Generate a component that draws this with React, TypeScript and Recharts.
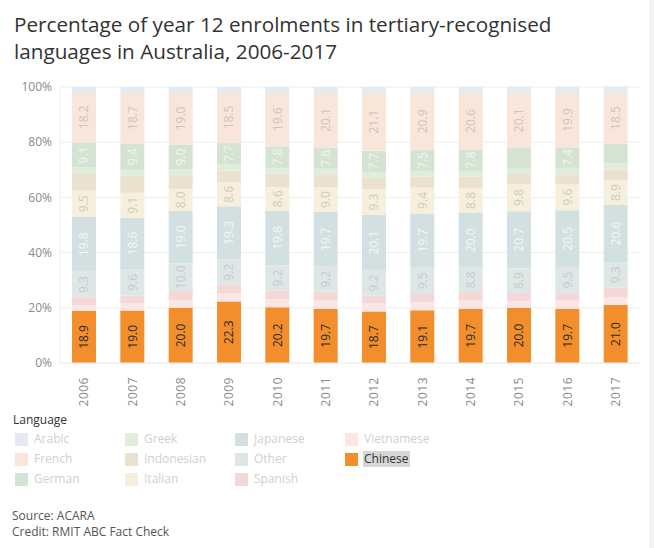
import React from "react"
import { BarChart, Bar, XAxis, YAxis, CartesianGrid, LabelList } from "recharts"

const years = ["2006", "2007", "2008", "2009", "2010", "2011", "2012", "2013", "2014", "2015", "2016", "2017"]

// values in % of enrolments, stacked bottom to top
const chinese = [18.9, 19.0, 20.0, 22.3, 20.2, 19.7, 18.7, 19.1, 19.7, 20.0, 19.7, 21.0]
const vietnamese = [2.1, 2.7, 2.8, 2.9, 3.0, 3.1, 2.9, 2.9, 2.9, 2.5, 2.9, 2.9]
const spanish = [2.8, 2.7, 3.3, 3.1, 3.0, 3.0, 2.8, 3.0, 3.1, 2.9, 2.7, 3.4]
const other = [9.3, 9.6, 10.0, 9.2, 9.2, 9.2, 9.2, 9.5, 8.8, 8.9, 9.5, 9.3]
const japanese = [19.8, 18.6, 19.0, 19.3, 19.8, 19.7, 20.1, 19.7, 20.0, 20.7, 20.5, 20.6]
const italian = [9.5, 9.1, 8.0, 8.6, 8.6, 9.0, 9.3, 9.4, 8.8, 9.8, 9.6, 8.9]
const indonesian = [6.4, 6.1, 5.0, 4.4, 4.8, 4.7, 4.2, 4.0, 4.2, 3.7, 3.5, 3.9]
const greek = [2.0, 2.2, 2.0, 2.2, 2.1, 2.0, 2.0, 2.0, 2.1, 1.9, 2.3, 2.2]
const german = [9.1, 9.4, 9.0, 7.7, 7.8, 7.6, 7.7, 7.5, 7.8, 7.5, 7.4, 7.2]
const french = [18.2, 18.7, 19.0, 18.5, 19.6, 20.1, 21.1, 20.9, 20.6, 20.1, 19.9, 18.5]
const arabic = [1.9, 1.9, 1.9, 1.8, 1.9, 1.9, 2.0, 2.0, 2.0, 2.0, 2.0, 2.0]

// years where the German mark label is hidden
const germanHiddenLabels = ["2015", "2017"]

const yTicks = [0, 0.2, 0.4, 0.6, 0.8, 1]

const series = [
  { key: "Chinese", values: chinese, color: "#F28E2B", label: "#2b2b2b" },
  { key: "Vietnamese", values: vietnamese, color: "#FAE6E5", label: null },
  { key: "Spanish", values: spanish, color: "#F4D8D8", label: null },
  { key: "Other", values: other, color: "#DEE7E6", label: "#C4CCCB" },
  { key: "Japanese", values: japanese, color: "#D3E0E1", label: "#F3F7F7" },
  { key: "Italian", values: italian, color: "#F6EFDB", label: "#CFCBC0" },
  { key: "Indonesian", values: indonesian, color: "#EAE2CF", label: null },
  { key: "Greek", values: greek, color: "#E1EDDC", label: null },
  { key: "German", values: german, color: "#D5E4D2", label: "#F1F6F0" },
  { key: "French", values: french, color: "#F8E6DA", label: "#CCC4BE" },
  { key: "Arabic", values: arabic, color: "#E3EAF2", label: null },
]

const legendColumns = [
  ["Arabic", "French", "German"],
  ["Greek", "Indonesian", "Italian"],
  ["Japanese", "Other", "Spanish"],
  ["Vietnamese", "Chinese"],
]

const data = years.map((year, i) => {
  const row: any = { year }
  series.forEach((s) => {
    row[s.key] = s.values[i]
    row[s.key + "Label"] = s.key === "German" && germanHiddenLabels.includes(year) ? null : s.values[i]
  })
  return row
})

const font = "'Open Sans', 'Noto Sans', sans-serif"

const makeLabel = (color: string) => (props: any) => {
  const { x, y, width, height, value } = props
  if (value == null) return null
  const cx = Number(x) + Number(width) / 2
  const cy = Number(y) + Number(height) / 2
  return (
    <text
      x={cx}
      y={cy}
      transform={`rotate(-90, ${cx}, ${cy})`}
      textAnchor="middle"
      dominantBaseline="central"
      fontSize={12}
      fontFamily={font}
      fill={color}
    >
      {Number(value).toFixed(1)}
    </text>
  )
}

const YearTick = (props: any) => {
  const { x, y, payload } = props
  return (
    <text
      x={x + 4}
      y={y + 6}
      transform={`rotate(-90, ${x + 4}, ${y + 6})`}
      textAnchor="end"
      fontSize={12}
      fontFamily={font}
      fill="#8a8a8a"
      letterSpacing={0.5}
    >
      {payload.value}
    </text>
  )
}

export default function App() {
  const colorOf = (k: string) => series.find((s) => s.key === k)!.color
  return (
    <div
      style={{
        position: "absolute",
        left: 0,
        top: 0,
        width: 654,
        height: 548,
        background: "#fff",
        fontFamily: font,
        overflow: "hidden",
      }}
    >
      <div
        style={{
          position: "absolute",
          left: 14,
          top: 11,
          fontSize: 20.7,
          lineHeight: "27px",
          color: "#333",
          whiteSpace: "nowrap",
        }}
      >
        <div>Percentage of year 12 enrolments in tertiary-recognised</div>
        <div>languages in Australia, 2006-2017</div>
      </div>
      <div style={{ position: "absolute", left: 0, top: 0 }}>
        <BarChart
          width={654}
          height={410}
          data={data}
          stackOffset="expand"
          barCategoryGap={12}
          margin={{ top: 87, right: 14, bottom: 0, left: 0 }}
        >
          <CartesianGrid vertical={false} stroke="#eeeeee" />
          <XAxis
            dataKey="year"
            tick={<YearTick />}
            tickLine={false}
            axisLine={{ stroke: "#eeeeee" }}
            height={47}
            interval={0}
          />
          <YAxis
            domain={[0, 1]}
            ticks={yTicks}
            tickFormatter={(v: number) => `${Math.round(v * 100)}%`}
            tick={{ fontSize: 12, fill: "#8a8a8a", fontFamily: font }}
            tickLine={false}
            axisLine={{ stroke: "#eeeeee" }}
            width={60}
          />
          {series.map((s) => (
            <Bar key={s.key} dataKey={s.key} stackId="a" fill={s.color} isAnimationActive={false}>
              {s.label && <LabelList dataKey={s.key + "Label"} content={makeLabel(s.label)} />}
            </Bar>
          ))}
        </BarChart>
      </div>
      <div style={{ position: "absolute", left: 13, top: 411, fontSize: 12, color: "#333" }}>Language</div>
      {legendColumns.map((col, ci) =>
        col.map((name, ri) => (
          <div
            key={name}
            style={{
              position: "absolute",
              left: 15 + ci * 110,
              top: 432 + ri * 20,
              height: 14,
              display: "flex",
              alignItems: "center",
              fontSize: 12,
              color: name === "Chinese" ? "#333" : "#d0d0d0",
            }}
          >
            <span style={{ width: 13, height: 13, background: colorOf(name), display: "inline-block" }} />
            <span
              style={{
                marginLeft: 5,
                padding: "0 1px",
                background: name === "Chinese" ? "#d6d6d6" : "transparent",
                lineHeight: "16px",
              }}
            >
              {name}
            </span>
          </div>
        ))
      )}
      <div style={{ position: "absolute", left: 12, top: 508, fontSize: 12, lineHeight: "16px", color: "#555" }}>
        <div>Source: ACARA</div>
        <div>Credit: RMIT ABC Fact Check</div>
      </div>
      <div style={{ position: "absolute", right: 0, top: 0, width: 5, height: 548, background: "#f2f2f2" }} />
    </div>
  )
}
